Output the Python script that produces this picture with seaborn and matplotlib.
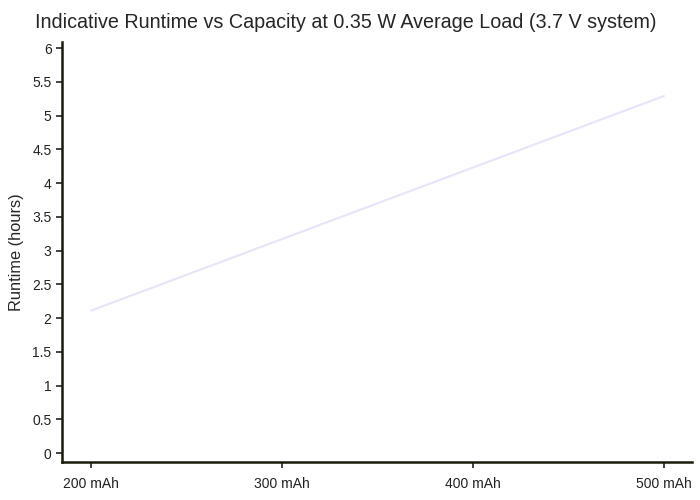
import numpy as np
import pandas as pd
import seaborn as sns
import matplotlib.pyplot as plt

# capacity (mAh) and indicative runtime (hours) at 0.35 W, 3.7 V
capacities = [200, 300, 400, 500]
runtimes = [2.11, 3.17, 4.23, 5.29]
tick_labels = ["200 mAh", "300 mAh", "400 mAh", "500 mAh"]
y_ticks = [0, 0.5, 1, 1.5, 2, 2.5, 3, 3.5, 4, 4.5, 5, 5.5, 6]

df = pd.DataFrame({"Capacity": capacities, "Runtime": runtimes})

sns.set_style("ticks")
plt.rcParams["font.family"] = ["Liberation Sans", "DejaVu Sans"]

fig = plt.figure(figsize=(7, 5), dpi=100)
ax = fig.add_axes([0.0886, 0.076, 0.9, 0.84])

sns.lineplot(data=df, x="Capacity", y="Runtime", ax=ax, color="#e6e6fa", linewidth=1.5)

ax.set_xlim(184.8, 514.7)
ax.set_ylim(-0.133, 6.09)
ax.set_xticks(capacities)
ax.set_xticklabels(tick_labels)
ax.set_yticks(y_ticks)
ax.set_yticklabels([f"{t:g}" for t in y_ticks])
ax.tick_params(labelsize=10, colors="#222222", length=4, width=1.2)
ax.tick_params(axis="x", pad=7)

ax.set_xlabel("")
ax.set_ylabel("Runtime (hours)", fontsize=11.8, labelpad=6)
fig.suptitle("Indicative Runtime vs Capacity at 0.35 W Average Load (3.7 V system)",
             fontsize=14.2, x=0.494, y=0.975)

for side in ["top", "right"]:
    ax.spines[side].set_visible(False)
for side in ["left", "bottom"]:
    ax.spines[side].set_color("#1a1a0a")
    ax.spines[side].set_linewidth(1.8)

fig.savefig("out.png", dpi=100)
